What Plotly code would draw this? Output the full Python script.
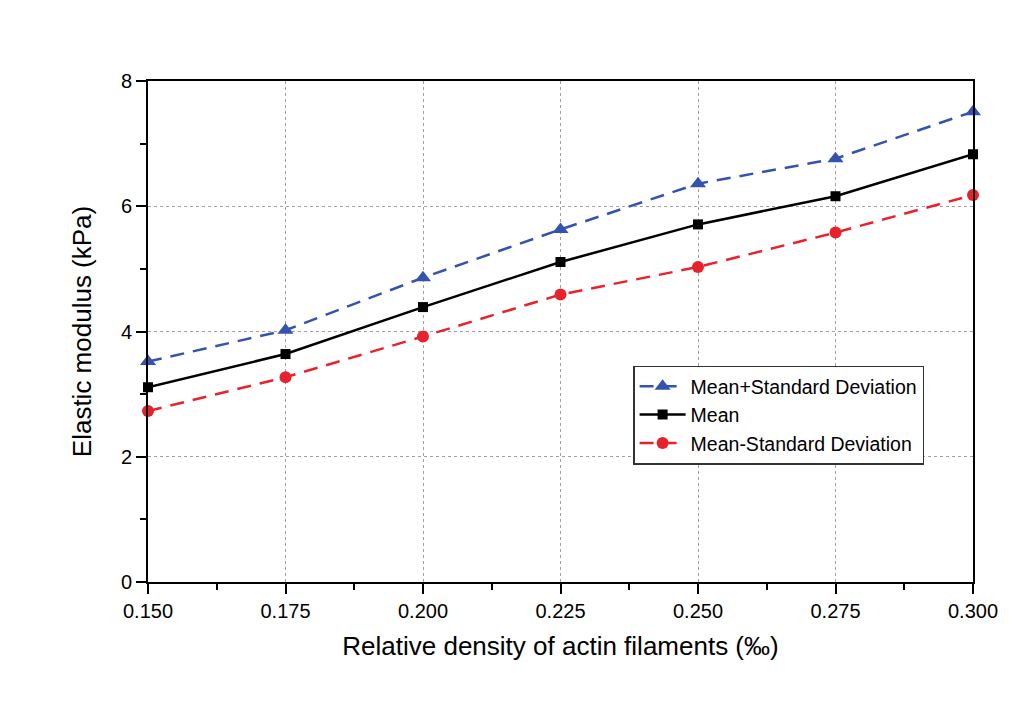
import plotly.graph_objects as go

# Relative density of actin filaments (‰)
density = [0.150, 0.175, 0.200, 0.225, 0.250, 0.275, 0.300]

# Elastic modulus (kPa)
mean_plus_sd = [3.52, 4.02, 4.86, 5.63, 6.36, 6.76, 7.51]
mean_vals = [3.11, 3.64, 4.39, 5.11, 5.71, 6.16, 6.83]
mean_minus_sd = [2.73, 3.27, 3.92, 4.59, 5.03, 5.58, 6.18]

x_ticks = [0.150, 0.175, 0.200, 0.225, 0.250, 0.275, 0.300]
y_ticks = [0, 2, 4, 6, 8]

BLUE = "#3353AE"
RED = "#E8222B"
FONT = "Liberation Sans, Arial, sans-serif"

fig = go.Figure()

fig.add_trace(go.Scatter(
    x=density, y=mean_plus_sd, name="Mean+Standard Deviation",
    mode="lines+markers",
    line=dict(color=BLUE, width=2.5, dash="14px,9px"),
    marker=dict(symbol="triangle-up", size=14, color=BLUE),
    cliponaxis=False,
))
fig.add_trace(go.Scatter(
    x=density, y=mean_vals, name="Mean",
    mode="lines+markers",
    line=dict(color="black", width=2.5),
    marker=dict(symbol="square", size=10, color="black"),
    cliponaxis=False,
))
fig.add_trace(go.Scatter(
    x=density, y=mean_minus_sd, name="Mean-Standard Deviation",
    mode="lines+markers",
    line=dict(color=RED, width=2.5, dash="14px,9px"),
    marker=dict(symbol="circle", size=12, color=RED),
    cliponaxis=False,
))

axis_common = dict(
    showline=True, linecolor="black", linewidth=2, mirror=True,
    ticks="outside", ticklen=10, tickwidth=2, tickcolor="black",
    showgrid=True, gridcolor="#A0A0A0", gridwidth=1, griddash="3px,3px",
    zeroline=False,
    tickfont=dict(family=FONT, size=20, color="black"),
)

fig.update_xaxes(
    range=[0.150, 0.300], tickvals=x_ticks,
    ticktext=[f"{v:.3f}" for v in x_ticks],
    minor=dict(ticks="outside", ticklen=6, tickwidth=2, tickcolor="black",
               dtick=0.0125, tick0=0.150, showgrid=False),
    title=dict(text="Relative density of actin filaments (‰)",
               font=dict(family=FONT, size=26, color="black"), standoff=16),
    **axis_common,
)
fig.update_yaxes(
    range=[0, 8], tickvals=y_ticks,
    minor=dict(ticks="outside", ticklen=6, tickwidth=2, tickcolor="black",
               dtick=1, tick0=0, showgrid=False),
    title=dict(text="Elastic modulus (kPa)",
               font=dict(family=FONT, size=26, color="black"), standoff=22),
    **axis_common,
)

fig.update_layout(
    width=1021, height=706,
    margin=dict(l=148, r=48, t=81, b=124),
    paper_bgcolor="white", plot_bgcolor="white",
    showlegend=True,
    legend=dict(
        x=0.588, y=0.432, xanchor="left", yanchor="top",
        bgcolor="white", bordercolor="#333333", borderwidth=1.5,
        font=dict(family=FONT, size=19.5, color="black"),
        tracegroupgap=0, itemwidth=46,
    ),
)

fig.write_html("out.html")
